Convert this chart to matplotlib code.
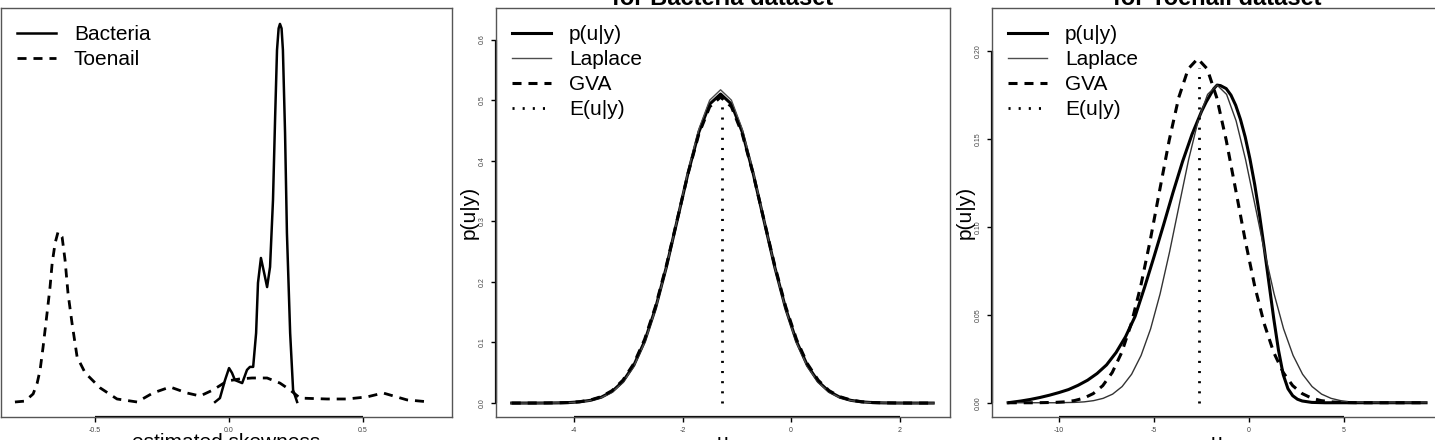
import matplotlib
matplotlib.use("Agg")
import matplotlib.pyplot as plt
from matplotlib.lines import Line2D

plt.rcParams['font.family'] = ['Liberation Sans', 'DejaVu Sans']
plt.rcParams['lines.scale_dashes'] = False

# ---- panel 1: estimated skewness densities ----
bact_x = [-0.052, -0.034, -0.015, 0.000, 0.011, 0.022, 0.049, 0.067, 0.078, 0.090,
          0.101, 0.108, 0.119, 0.131, 0.142, 0.153, 0.164, 0.172, 0.179, 0.185,
          0.190, 0.196, 0.201, 0.209, 0.216, 0.228, 0.239, 0.254]
bact_y = [0.00, 0.13, 0.73, 1.13, 0.97, 0.73, 0.63, 1.07, 1.17, 1.17,
          2.30, 3.97, 4.80, 4.30, 3.83, 4.50, 6.73, 9.50, 11.73, 12.45,
          12.60, 12.45, 11.73, 8.97, 5.63, 2.30, 0.40, 0.00]
toe_x = [-0.799, -0.761, -0.731, -0.716, -0.705, -0.694, -0.679, -0.668, -0.660, -0.649,
         -0.638, -0.623, -0.612, -0.601, -0.586, -0.567, -0.537, -0.481, -0.418, -0.343,
         -0.284, -0.220, -0.157, -0.108, -0.060, -0.007, 0.041, 0.086, 0.142, 0.190,
         0.228, 0.265, 0.366, 0.440, 0.515, 0.575, 0.664, 0.750]
toe_y = [0.00, 0.03, 0.27, 0.63, 1.07, 1.83, 2.97, 3.83, 4.63, 5.30,
         5.67, 5.50, 4.73, 3.63, 2.63, 1.50, 0.97, 0.47, 0.10, 0.00,
         0.30, 0.50, 0.30, 0.20, 0.40, 0.70, 0.77, 0.80, 0.80, 0.63,
         0.40, 0.13, 0.10, 0.10, 0.17, 0.30, 0.07, 0.00]

# ---- panel 2: Bacteria posterior ----
bact_u = [-5.15, -4.9, -4.7, -4.5, -4.3, -4.1, -3.9, -3.7, -3.5, -3.3,
          -3.1, -2.9, -2.7, -2.5, -2.3, -2.1, -1.9, -1.7, -1.5, -1.3,
          -1.1, -0.9, -0.7, -0.5, -0.3, -0.1, 0.1, 0.3, 0.5, 0.7,
          0.9, 1.1, 1.3, 1.5, 1.7, 1.9, 2.1, 2.3, 2.62]
bact_post = [0.0, 0.0, 0.0, 0.0001, 0.0003, 0.0008, 0.0020, 0.0045, 0.0096, 0.0191,
             0.0356, 0.0622, 0.1019, 0.1562, 0.2242, 0.3014, 0.3794, 0.4472, 0.4935, 0.510,
             0.4935, 0.4472, 0.3794, 0.3014, 0.2242, 0.1562, 0.1019, 0.0622, 0.0356, 0.0191,
             0.0096, 0.0045, 0.0020, 0.0008, 0.0003, 0.0001, 0.0, 0.0, 0.0]
bact_lap = [0.0, 0.0, 0.0, 0.0001, 0.0003, 0.0007, 0.0018, 0.0041, 0.0089, 0.0180,
            0.0341, 0.0604, 0.0998, 0.1545, 0.2234, 0.3022, 0.3822, 0.4521, 0.4999, 0.517,
            0.4999, 0.4521, 0.3822, 0.3022, 0.2234, 0.1545, 0.0998, 0.0604, 0.0341, 0.0180,
            0.0089, 0.0041, 0.0018, 0.0007, 0.0003, 0.0001, 0.0, 0.0, 0.0]
bact_gva = [0.0, 0.0, 0.0001, 0.0002, 0.0004, 0.0009, 0.0022, 0.0050, 0.0105, 0.0205,
            0.0377, 0.0650, 0.1050, 0.1593, 0.2266, 0.3024, 0.3785, 0.4442, 0.4891, 0.505,
            0.4891, 0.4442, 0.3785, 0.3024, 0.2266, 0.1593, 0.1050, 0.0650, 0.0377, 0.0205,
            0.0105, 0.0050, 0.0022, 0.0009, 0.0004, 0.0002, 0.0001, 0.0, 0.0]
bact_mean = -1.27
bact_mean_top = 0.505

# ---- panel 3: Toenail posterior ----
toe_u_post = [-12.68, -12.0, -11.5, -11.0, -10.5, -10.0, -9.5, -9.0, -8.5, -8.0,
              -7.5, -7.0, -6.5, -6.0, -5.5, -5.0, -4.5, -4.0, -3.5, -3.0,
              -2.5, -2.25, -2.0, -1.85, -1.68, -1.5, -1.2, -0.95, -0.7, -0.45,
              -0.2, 0.05, 0.3, 0.55, 0.8, 1.05, 1.3, 1.55, 1.8, 2.05,
              2.3, 2.55, 2.8, 3.3, 4.0, 9.32]
toe_post = [0.0, 0.0010, 0.0019, 0.0030, 0.0043, 0.0058, 0.0075, 0.0099, 0.0128, 0.0166,
            0.0215, 0.0285, 0.0375, 0.0490, 0.0655, 0.0830, 0.1010, 0.1195, 0.1370, 0.1525,
            0.1655, 0.1710, 0.1757, 0.1785, 0.1805, 0.1802, 0.1785, 0.1748, 0.1690, 0.1610,
            0.1510, 0.1385, 0.1240, 0.1070, 0.0880, 0.0680, 0.0480, 0.0300, 0.0160, 0.0080,
            0.0040, 0.0020, 0.0010, 0.0002, 0.0, 0.0]
toe_u_lap = [-12.68, -12.18, -11.68, -11.18, -10.68, -10.18, -9.68, -9.18, -8.68, -8.18,
             -7.68, -7.18, -6.68, -6.18, -5.68, -5.18, -4.68, -4.18, -3.68, -3.18,
             -2.68, -2.18, -1.68, -1.18, -0.68, -0.18, 0.32, 0.82, 1.32, 1.82,
             2.32, 2.82, 3.32, 3.82, 4.32, 4.82, 5.32, 5.82, 6.32, 6.82,
             7.32, 7.82, 8.32, 8.82, 9.32]
toe_lap = [0.0, 0.0, 0.0, 0.0, 0.0, 0.0, 0.0001, 0.0002, 0.0005, 0.0012,
           0.0025, 0.0049, 0.0092, 0.0162, 0.0269, 0.0420, 0.0619, 0.0858, 0.1121, 0.1381,
           0.1602, 0.1752, 0.1805, 0.1752, 0.1602, 0.1381, 0.1121, 0.0858, 0.0619, 0.0420,
           0.0269, 0.0162, 0.0092, 0.0049, 0.0025, 0.0012, 0.0005, 0.0002, 0.0001, 0.0,
           0.0, 0.0, 0.0, 0.0, 0.0]
toe_u_gva = [-12.7, -12.2, -11.7, -11.2, -10.7, -10.2, -9.7, -9.2, -8.7, -8.2,
             -7.7, -7.2, -6.7, -6.2, -5.7, -5.2, -4.7, -4.2, -3.7, -3.2,
             -2.7, -2.2, -1.7, -1.2, -0.7, -0.2, 0.3, 0.8, 1.3, 1.8,
             2.3, 2.8, 3.3, 3.8, 4.3, 4.8, 5.3, 5.8, 6.3, 6.8,
             7.3, 7.8, 8.3, 8.8, 9.3]
toe_gva = [0.0, 0.0, 0.0, 0.0, 0.0001, 0.0002, 0.0005, 0.0012, 0.0026, 0.0052,
           0.0097, 0.0172, 0.0286, 0.0449, 0.0663, 0.0923, 0.1209, 0.1492, 0.1734, 0.1897,
           0.1955, 0.1897, 0.1734, 0.1492, 0.1209, 0.0923, 0.0663, 0.0449, 0.0286, 0.0172,
           0.0097, 0.0052, 0.0026, 0.0012, 0.0005, 0.0002, 0.0001, 0.0, 0.0, 0.0,
           0.0, 0.0, 0.0, 0.0, 0.0]
toe_mean = -2.62
toe_mean_top = 0.19

legend_labels = ['p(u|y)', 'Laplace', 'GVA', 'E(u|y)']

W, H = 1435.0, 440.0
fig = plt.figure(figsize=(W / 100, H / 100), dpi=100)


def px_axes(x0, x1, y0, y1):
    return fig.add_axes([x0 / W, 1 - y1 / H, (x1 - x0) / W, (y1 - y0) / H])


def style(ax, xticks, xlabels, yticks=None, ylabels=None):
    for s in ax.spines.values():
        s.set_color('#555555')
        s.set_linewidth(1.0)
    ax.set_xticks(xticks)
    ax.set_xticklabels(xlabels, fontsize=5, color='#444444')
    ax.tick_params(direction='out', length=3.6, width=1.0, pad=3.5)
    x0, x1 = ax.get_xlim()
    y0, y1 = ax.get_ylim()
    ax.plot([xticks[0], xticks[-1]], [y0, y0], color='black', lw=1.6,
            clip_on=False, solid_capstyle='butt')
    if yticks is None:
        ax.set_yticks([])
    else:
        ax.set_yticks(yticks)
        ax.set_yticklabels(ylabels, fontsize=5, color='#444444',
                           rotation=90, va='center')
        ax.plot([x0, x0], [yticks[0], yticks[-1]], color='black', lw=1.6,
                clip_on=False, solid_capstyle='butt')
    ax.set_xlim(x0, x1)
    ax.set_ylim(y0, y1)


def add_legend(ax, handles, labels, width_px):
    ax.legend(handles, labels, loc='upper left',
              bbox_to_anchor=(8 / width_px, 1 - 9 / 409), borderaxespad=0,
              borderpad=0.4, frameon=False, fontsize=15, handlelength=1.85,
              handletextpad=0.87, labelspacing=0.28)


thick = 2.2
dash = (6.5, 5.0)
dot = (1.5, 5.8)

# panel 1
ax1 = px_axes(1, 452, 8, 417)
ax1.set_xlim(-0.851, 0.832)
ax1.set_ylim(-0.5, 13.13)
l1, = ax1.plot(bact_x, bact_y, color='black', lw=1.8)
l2, = ax1.plot(toe_x, toe_y, color='black', lw=2.0, dashes=dash)
style(ax1, [-0.5, 0.0, 0.5], ['-0.5', '0.0', '0.5'])
add_legend(ax1, [l1, l2], ['Bacteria', 'Toenail'], 451)

# panel 2
ax2 = px_axes(496, 950, 8, 417)
ax2.set_xlim(-5.44, 2.93)
ax2.set_ylim(-0.023, 0.652)
h1, = ax2.plot(bact_u, bact_post, color='black', lw=thick)
h2, = ax2.plot(bact_u, bact_lap, color='#4d4d4d', lw=1.0)
h3, = ax2.plot(bact_u, bact_gva, color='black', lw=thick, dashes=dash)
ax2.vlines(bact_mean, 0, bact_mean_top, color='black', lw=2.0,
           linestyles=[(0, dot)])
style(ax2, [-4, -2, 0, 2], ['-4', '-2', '0', '2'],
      [0.0, 0.1, 0.2, 0.3, 0.4, 0.5, 0.6],
      ['0.0', '0.1', '0.2', '0.3', '0.4', '0.5', '0.6'])
dot_handle = Line2D([], [], color='black', lw=2.0, dashes=dot)
add_legend(ax2, [h1, h2, h3, dot_handle], legend_labels, 454)

# panel 3
ax3 = px_axes(992, 1442, 8, 417)
ax3.set_xlim(-13.53, 10.16)
ax3.set_ylim(-0.0081, 0.2243)
g1, = ax3.plot(toe_u_post, toe_post, color='black', lw=thick)
g2, = ax3.plot(toe_u_lap, toe_lap, color='#333333', lw=1.0)
g3, = ax3.plot(toe_u_gva, toe_gva, color='black', lw=thick, dashes=dash)
ax3.vlines(toe_mean, 0, toe_mean_top, color='black', lw=2.0,
           linestyles=[(0, dot)])
style(ax3, [-10, -5, 0, 5], ['-10', '-5', '0', '5'],
      [0.00, 0.05, 0.10, 0.15, 0.20],
      ['0.00', '0.05', '0.10', '0.15', '0.20'])
add_legend(ax3, [g1, h2, g3, dot_handle], legend_labels, 450)

# axis labels and cut-off titles
fig.text(226 / W, 1 - 448 / H, 'estimated skewness', fontsize=15,
         ha='center', va='baseline')
fig.text(723 / W, 1 - 448 / H, 'u', fontsize=15, ha='center', va='baseline')
fig.text(1217 / W, 1 - 448 / H, 'u', fontsize=15, ha='center', va='baseline')
fig.text(469 / W, 1 - 212 / H, 'p(u|y)', fontsize=15, rotation=90,
         ha='center', va='center')
fig.text(965 / W, 1 - 212 / H, 'p(u|y)', fontsize=15, rotation=90,
         ha='center', va='center')
fig.text(723 / W, 1 - 5 / H, 'for Bacteria dataset', fontsize=17,
         fontweight='bold', ha='center', va='baseline')
fig.text(1217 / W, 1 - 5 / H, 'for Toenail dataset', fontsize=17,
         fontweight='bold', ha='center', va='baseline')

fig.savefig('out.png', dpi=100)
